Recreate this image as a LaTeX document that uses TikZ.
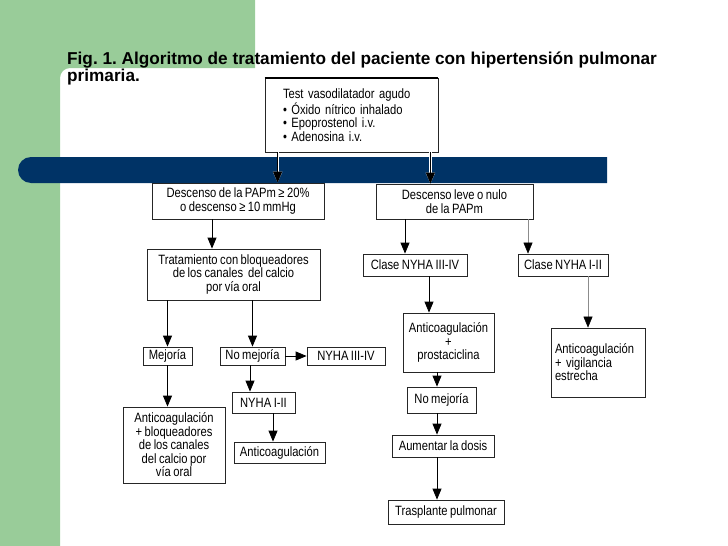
\documentclass[tikz,border=0pt]{standalone}
\usepackage{fontspec}
\setmainfont{Liberation Sans}
\newfontfamily\narrowsans[FakeStretch=0.83, WordSpace=0.8]{Liberation Sans}
\usetikzlibrary{arrows.meta, calc}
\definecolor{slidegreen}{RGB}{153,204,153}
\definecolor{barnavy}{RGB}{0,51,102}
\frenchspacing

\begin{document}
\begin{tikzpicture}[x=1pt, y=-1pt,
  box/.style={draw=black!85, line width=0.8pt, fill=white, inner sep=0pt,
    font=\narrowsans\fontsize{13.5}{13.5}\selectfont, align=center},
  arr/.style={-{Triangle[length=11pt,width=9pt]}, line width=0.8pt},
  thinarr/.style={-{Triangle[length=11pt,width=9pt,color=black]}, draw=black!45, line width=0.5pt},
  onbar/.style={preaction={draw=white, line width=2.2pt}}]
  \useasboundingbox (0,0) rectangle (728,546);
  % Slide background
  \fill[slidegreen] (0,0) -- (255,0) -- (255,68) -- (70,68)
    arc[start angle=270, end angle=180, radius=10] -- (60,546) -- (0,546) -- cycle;
  \fill[barnavy] (607,157) -- (31,157) arc[start angle=270, end angle=90, radius=13]
    -- (607,183) -- cycle;
  % Title
  \node[anchor=north west, inner sep=0pt, align=left,
        font=\fontsize{17.2}{17}\selectfont\bfseries] (title) at (67,52)
    {Fig. 1. Algoritmo de tratamiento del paciente con hipertensión pulmonar\\primaria.};
  % Boxes
  \node[box, align=left, text width=137pt, inner xsep=18pt, minimum height=74pt] (test) at (351.5,115)
    {Test vasodilatador agudo\\• Óxido nítrico inhalado\\• Epoprostenol i.v.\\• Adenosina i.v.};
  \draw[line width=2pt] (test.north west) -- (test.north east);
  \node[box, minimum width=172pt, minimum height=36pt] (desc1) at (238,201)
    {Descenso de la PAPm ≥ 20\%\\o descenso ≥ 10 mmHg};
  \node[box, minimum width=157pt, minimum height=35pt] (desc2) at (454.5,201.5)
    {Descenso leve o nulo\\de la PAPm};
  \node[box, minimum width=173pt, minimum height=51pt] (trat) at (233.5,274.5)
    {Tratamiento con bloqueadores\\de los canales\ \ del calcio\\por vía oral};
  \node[box, minimum width=104pt, minimum height=22pt] (clase34) at (415,265) {Clase NYHA III-IV};
  \node[box, minimum width=90pt, minimum height=22pt] (clase12) at (563,265) {Clase NYHA I-II};
  \node[box, minimum width=91pt, minimum height=59pt] (antprost) at (448.5,342.5)
    {Anticoagulación\\+\\prostaciclina};
  \node[box, align=left, text width=86pt, inner xsep=4pt, minimum height=69pt] (antvig) at (598,362.5)
    {Anticoagulación\\+ vigilancia\\estrecha};
  \node[box, minimum width=49pt, minimum height=18pt] (mej) at (167.5,356) {Mejoría};
  \node[box, minimum width=65pt, minimum height=18pt] (nomej) at (252.5,356) {No mejoría};
  \node[box, minimum width=78pt, minimum height=18pt] (nyha34) at (346,356) {NYHA III-IV};
  \node[box, minimum width=63pt, minimum height=21pt] (nyha12) at (263.5,402.5) {NYHA I-II};
  \node[box, minimum width=91pt, minimum height=21pt] (anticoag) at (279.5,452.5) {Anticoagulación};
  \node[box, minimum width=102pt, minimum height=76pt] (antbloq) at (174,445)
    {Anticoagulación\\+ bloqueadores\\de los canales\\del calcio por\\vía oral};
  \node[box, minimum width=69pt, minimum height=26pt] (nomej2) at (441.5,400) {No mejoría};
  \node[box, minimum width=102pt, minimum height=22pt] (aument) at (443,446) {Aumentar la dosis};
  \node[box, minimum width=116pt, minimum height=24pt] (traspl) at (446,512) {Trasplante pulmonar};
  % Arrows
  \draw[arr, onbar] ([xshift=13pt]test.south west) -- ([xshift=13pt]test.south west |- desc1.north);
  \draw[arr, onbar] ([xshift=-8pt]test.south east) -- ([xshift=-8pt]test.south east |- desc2.north);
  \draw[arr] ([xshift=-26pt]desc1.south) -- ([xshift=-26pt]desc1.south |- trat.north);
  \draw[arr] ([xshift=-49.5pt]desc2.south) -- ([xshift=-49.5pt]desc2.south |- clase34.north);
  \draw[thinarr] ([xshift=73.5pt]desc2.south) -- ([xshift=73.5pt]desc2.south |- clase12.north);
  \draw[arr] ([xshift=14pt]clase34.south) -- ([xshift=14pt]clase34.south |- antprost.north);
  \draw[thinarr] ([xshift=25pt]clase12.south) -- ([xshift=25pt]clase12.south |- antvig.north);
  \draw[arr] (trat.south -| mej.north) -- (mej.north);
  \draw[arr] (trat.south -| nomej.north) -- (nomej.north);
  \draw[arr] (nomej.east) -- (nyha34.west);
  \draw[arr] (mej.south) -- (mej.south |- antbloq.north);
  \draw[arr] ([xshift=-2.5pt]nomej.south) -- ([xshift=-2.5pt]nomej.south |- nyha12.north);
  \draw[arr] ([xshift=9.5pt]nyha12.south) -- ([xshift=9.5pt]nyha12.south |- anticoag.north);
  \draw[arr] ([xshift=-11.5pt]antprost.south) -- ([xshift=-11.5pt]antprost.south |- nomej2.north);
  \draw[arr] ([xshift=-4.5pt]nomej2.south) -- ([xshift=-4.5pt]nomej2.south |- aument.north);
  \draw[arr] ([xshift=-6pt]aument.south) -- ([xshift=-6pt]aument.south |- traspl.north);
\end{tikzpicture}
\end{document}
